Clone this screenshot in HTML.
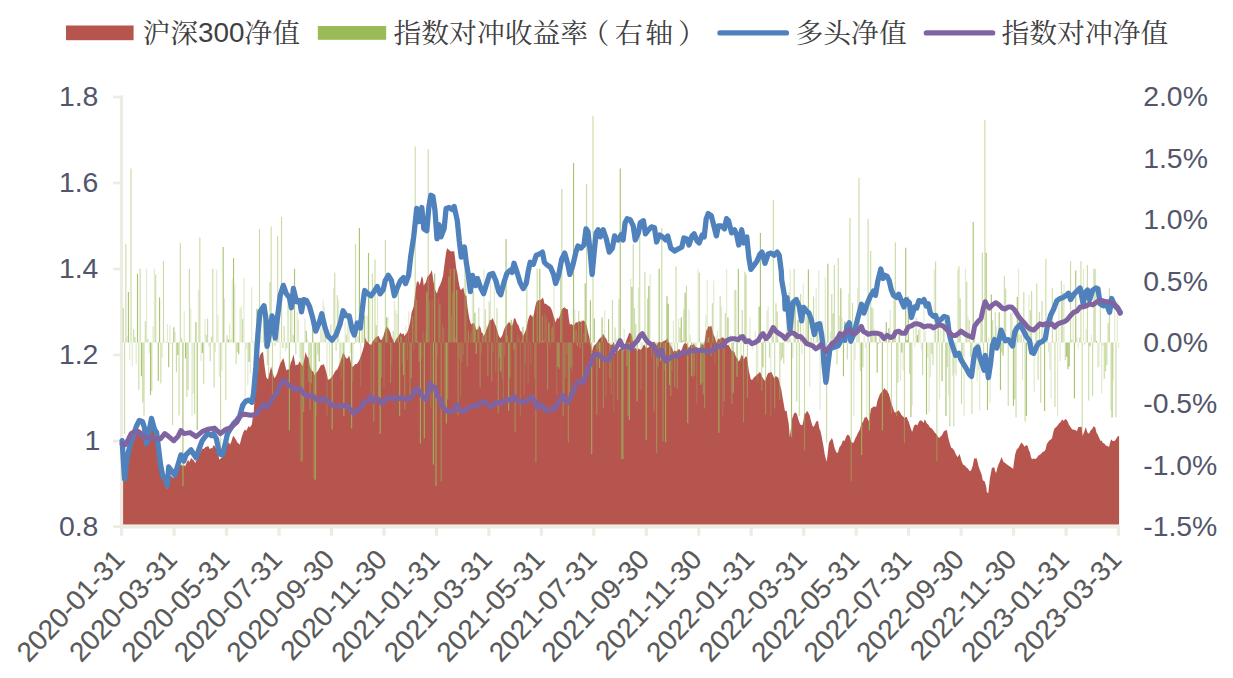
<!DOCTYPE html>
<html lang="zh"><head><meta charset="utf-8"><title>chart</title>
<style>html,body{margin:0;padding:0;background:#fff}svg{display:block}</style></head>
<body>
<svg width="1233" height="678" viewBox="0 0 1233 678">
<rect width="1233" height="678" fill="#fff"/>
<g stroke="#ECECE3" stroke-width="3.2" fill="none">
<path d="M121.5 95.5V528.2"/>
<path d="M119.9 526.8H1120"/>
</g>
<g stroke="#ECECE3" stroke-width="2.6" fill="none">
<path d="M113 97.0H121.5"/>
<path d="M113 183.0H121.5"/>
<path d="M113 269.0H121.5"/>
<path d="M113 355.0H121.5"/>
<path d="M113 441.0H121.5"/>
<path d="M113 526.6H121.5"/>
</g>
<g stroke="#ECECE3" stroke-width="3.2" fill="none">
<path d="M121.6 526.6V535.8"/>
<path d="M174.1 526.6V535.8"/>
<path d="M226.5 526.6V535.8"/>
<path d="M279.0 526.6V535.8"/>
<path d="M331.5 526.6V535.8"/>
<path d="M384.0 526.6V535.8"/>
<path d="M436.4 526.6V535.8"/>
<path d="M488.9 526.6V535.8"/>
<path d="M541.4 526.6V535.8"/>
<path d="M593.8 526.6V535.8"/>
<path d="M646.3 526.6V535.8"/>
<path d="M698.8 526.6V535.8"/>
<path d="M751.2 526.6V535.8"/>
<path d="M803.7 526.6V535.8"/>
<path d="M856.2 526.6V535.8"/>
<path d="M908.6 526.6V535.8"/>
<path d="M961.1 526.6V535.8"/>
<path d="M1013.6 526.6V535.8"/>
<path d="M1066.1 526.6V535.8"/>
<path d="M1118.5 526.6V535.8"/>
</g>
<path fill="#B5554E" d="M123.1 524.4L123.1,440.7 L124.5,477.2 L125.8,468.4 L127.2,456.5 L128.7,451.9 L130.2,444.6 L131.7,439.9 L133.2,436.5 L134.3,433.3 L135.3,430.5 L136.8,430.3 L138.3,429.0 L139.8,429.5 L141.4,430.8 L142.4,431.0 L143.4,433.4 L144.9,438.7 L146.4,444.2 L147.4,441.1 L148.5,440.0 L150.0,434.9 L151.5,429.5 L153.0,430.7 L154.5,432.6 L155.6,433.1 L156.6,436.6 L157.6,444.0 L158.6,451.2 L159.6,458.0 L160.6,466.9 L161.6,469.9 L162.6,477.0 L163.7,477.8 L164.7,482.6 L166.0,487.5 L167.3,488.4 L168.7,479.6 L169.7,477.5 L170.8,475.0 L171.8,476.7 L172.8,477.4 L173.8,477.8 L174.8,476.1 L175.8,473.0 L176.8,470.8 L178.4,467.0 L179.9,465.0 L181.4,464.7 L182.9,466.5 L183.9,464.5 L185.0,466.6 L186.5,463.0 L188.0,460.0 L189.5,462.0 L191.0,457.9 L192.6,459.6 L194.1,460.7 L195.1,463.3 L196.1,461.1 L197.6,459.6 L199.1,454.6 L200.7,451.7 L202.2,448.5 L203.7,449.0 L205.2,447.3 L206.7,446.7 L208.3,445.9 L209.8,449.3 L211.3,447.7 L212.3,448.4 L213.3,445.2 L214.9,446.2 L216.4,448.9 L217.9,453.4 L219.4,459.7 L220.9,458.2 L222.5,456.8 L224.0,452.6 L225.5,448.7 L227.0,445.6 L228.5,442.3 L230.1,444.5 L231.6,440.9 L233.1,435.7 L234.6,437.6 L236.1,440.0 L237.7,442.9 L238.7,443.5 L239.7,444.7 L240.7,441.1 L241.7,437.1 L243.2,432.6 L244.8,429.4 L246.3,430.7 L247.8,427.7 L248.8,425.9 L249.8,427.5 L250.8,426.3 L251.9,424.2 L252.9,416.1 L253.9,410.4 L254.9,389.6 L255.9,378.1 L256.9,368.0 L258.5,360.9 L260.0,354.9 L261.5,352.9 L263.0,351.7 L264.5,365.3 L266.1,376.7 L267.1,378.6 L268.1,379.2 L269.6,372.4 L271.1,366.5 L272.6,372.6 L274.2,378.2 L275.7,376.4 L277.2,373.2 L278.7,368.3 L280.2,363.4 L281.8,360.7 L283.3,358.1 L284.8,363.6 L286.3,370.4 L287.9,369.2 L289.4,369.4 L290.7,362.8 L292.1,359.8 L293.4,354.4 L294.4,359.2 L295.5,365.5 L296.8,364.8 L298.2,364.4 L299.5,361.2 L301.0,363.5 L302.6,366.3 L304.1,360.2 L305.6,351.9 L307.1,356.5 L308.6,358.3 L309.6,364.5 L310.7,368.6 L312.0,370.7 L313.4,371.7 L314.7,375.4 L316.2,372.8 L317.8,370.9 L319.3,368.3 L320.8,365.2 L322.3,365.0 L323.8,363.9 L325.4,368.9 L326.9,374.5 L327.9,379.6 L329.2,379.6 L330.6,378.3 L332.0,376.3 L333.3,375.1 L334.7,372.1 L336.0,370.3 L337.4,369.3 L338.7,366.1 L340.1,362.2 L341.6,357.5 L343.1,352.6 L344.6,354.7 L346.1,358.4 L347.7,358.2 L349.2,355.6 L350.7,361.8 L352.2,366.9 L353.7,366.1 L355.3,363.9 L356.8,363.9 L358.3,362.1 L359.8,359.1 L361.4,354.6 L362.7,350.6 L364.0,345.9 L365.0,337.4 L366.5,341.1 L368.0,342.3 L369.6,344.3 L371.1,345.0 L372.6,341.4 L374.1,339.7 L375.6,337.2 L377.2,336.6 L378.7,335.9 L380.2,339.7 L381.7,339.7 L383.2,336.9 L384.3,332.7 L385.3,329.5 L386.3,326.4 L387.3,327.2 L388.8,328.9 L390.3,332.5 L391.7,336.9 L393.0,339.4 L394.4,342.9 L395.9,339.4 L397.4,337.5 L399.0,335.2 L400.5,332.5 L402.0,334.5 L403.5,333.2 L404.5,336.2 L405.6,334.2 L407.1,332.7 L408.6,328.2 L410.1,322.2 L411.6,312.4 L412.6,309.7 L413.7,306.5 L414.7,297.2 L415.7,289.2 L416.7,282.8 L417.7,281.0 L418.7,282.3 L419.7,285.3 L420.8,280.5 L421.8,276.3 L422.8,278.6 L423.8,285.7 L424.8,283.6 L425.8,282.8 L427.3,277.0 L428.9,275.3 L430.4,273.3 L431.9,270.0 L433.4,281.2 L435.0,289.3 L436.0,291.7 L437.0,293.6 L438.5,288.1 L440.0,284.9 L441.5,281.3 L443.1,275.5 L444.1,267.2 L445.1,259.7 L446.1,252.5 L447.1,248.3 L448.6,249.6 L450.2,251.1 L451.5,251.6 L452.9,251.3 L454.2,251.2 L455.2,259.5 L456.2,268.2 L457.3,273.1 L458.3,279.9 L459.3,285.2 L460.3,289.5 L461.8,289.5 L463.3,287.2 L464.4,292.9 L465.4,295.4 L466.4,295.9 L467.4,306.4 L468.4,313.2 L469.4,318.8 L470.4,322.4 L471.4,324.4 L473.0,322.9 L474.5,323.7 L475.5,327.3 L476.5,330.1 L478.0,329.1 L479.6,325.6 L480.6,328.0 L481.6,332.8 L482.6,333.1 L483.6,336.2 L485.1,333.5 L486.7,328.9 L488.2,325.0 L489.7,319.8 L491.2,320.2 L492.7,318.1 L494.3,322.6 L495.8,325.8 L497.3,330.7 L498.8,336.0 L499.8,337.6 L500.8,337.9 L502.4,335.1 L503.9,329.9 L505.4,326.6 L506.9,325.1 L508.5,322.3 L510.0,322.4 L511.0,325.2 L512.0,326.1 L513.0,323.3 L514.0,317.9 L515.5,319.0 L517.1,323.6 L518.6,325.4 L520.1,330.5 L521.6,331.7 L523.2,336.1 L524.7,333.0 L526.2,328.8 L527.2,324.0 L528.2,319.4 L529.2,316.5 L530.2,314.5 L531.8,316.1 L533.3,317.6 L534.8,308.8 L536.3,302.0 L537.9,300.4 L539.4,299.7 L540.9,300.1 L542.4,297.7 L543.4,298.8 L544.4,303.7 L546.0,303.8 L547.5,305.2 L549.0,305.9 L550.5,307.3 L552.0,310.5 L553.6,316.3 L554.6,318.9 L555.6,322.4 L557.1,317.8 L558.6,318.7 L560.2,314.7 L561.7,309.5 L563.2,307.9 L564.7,307.2 L566.2,308.9 L567.8,309.3 L568.8,318.4 L569.8,324.5 L571.3,323.9 L572.8,325.2 L574.3,324.8 L575.9,322.2 L577.4,322.4 L578.9,320.9 L579.9,321.6 L580.9,321.9 L582.5,320.7 L584.0,320.4 L585.0,321.8 L586.0,324.2 L587.0,326.8 L588.0,332.3 L589.0,336.0 L590.1,341.1 L591.1,346.4 L592.1,351.0 L593.1,347.4 L594.1,345.3 L595.6,344.3 L597.2,342.2 L598.7,339.5 L600.2,338.0 L601.7,336.7 L603.2,333.7 L604.8,336.9 L606.3,338.8 L607.8,342.6 L609.3,343.6 L610.8,345.0 L612.4,344.4 L613.4,341.7 L614.4,343.5 L615.0,353.5 L616.5,350.0 L618.0,351.3 L619.6,349.1 L621.1,348.6 L622.6,349.9 L624.1,350.9 L625.1,344.7 L626.2,340.7 L627.7,337.1 L629.2,332.9 L630.7,333.3 L632.2,336.3 L633.2,343.8 L634.3,348.8 L635.8,347.8 L637.3,350.9 L638.8,348.3 L640.3,350.0 L641.9,348.4 L643.4,345.3 L644.4,344.5 L645.4,346.9 L646.9,348.0 L648.5,347.4 L650.0,345.5 L651.5,342.6 L653.0,341.9 L654.5,341.8 L655.6,343.4 L656.6,345.4 L658.1,342.5 L659.6,341.7 L661.1,342.7 L662.6,341.4 L664.2,341.0 L665.7,340.0 L666.7,339.3 L667.7,338.3 L669.2,343.7 L670.8,346.0 L672.1,348.1 L673.5,351.7 L674.8,350.6 L676.3,351.4 L677.9,349.8 L679.2,349.0 L680.6,350.9 L681.9,349.3 L682.9,346.0 L683.9,344.1 L685.5,342.8 L687.0,344.4 L688.0,347.3 L689.0,347.8 L690.5,345.1 L692.0,344.9 L693.1,344.6 L694.1,344.3 L695.6,346.8 L697.1,347.7 L698.1,347.8 L699.1,348.7 L700.7,345.5 L702.2,343.4 L703.2,345.0 L704.2,344.3 L705.2,337.6 L706.2,330.4 L707.3,329.5 L708.3,326.3 L709.8,326.8 L711.3,325.8 L712.3,329.6 L713.3,334.2 L714.9,337.5 L716.4,343.1 L717.4,340.5 L718.4,338.4 L719.9,339.2 L721.4,337.5 L723.0,337.6 L724.5,338.6 L725.5,340.7 L726.5,344.8 L727.5,344.9 L728.5,345.1 L730.1,347.7 L731.6,350.7 L733.1,350.9 L734.6,352.4 L735.6,355.9 L736.7,357.7 L737.7,359.1 L738.7,361.8 L740.2,359.0 L741.7,354.8 L742.7,356.0 L743.8,359.5 L745.3,356.8 L746.8,356.6 L747.8,363.3 L748.8,370.7 L749.8,374.9 L750.8,379.5 L752.4,379.8 L753.9,377.5 L755.4,376.2 L756.9,374.6 L758.5,373.6 L760.0,371.7 L761.0,374.0 L762.0,376.6 L763.5,378.9 L765.0,381.1 L766.6,376.4 L768.1,373.1 L769.6,372.7 L771.1,371.7 L772.6,374.6 L774.2,378.6 L775.7,375.9 L777.2,377.0 L778.2,377.4 L779.2,380.9 L780.2,385.5 L781.3,389.6 L782.3,395.9 L783.3,401.6 L784.9,410.8 L785.1,410.9 L786.6,410.7 L787.7,418.1 L788.7,423.7 L789.8,437.3 L790.8,429.2 L791.9,419.4 L792.9,416.4 L794.0,413.6 L795.0,412.6 L796.1,412.9 L797.1,414.4 L798.2,418.9 L799.2,421.9 L800.3,424.6 L801.4,424.9 L802.4,425.2 L803.5,420.3 L804.5,412.9 L805.6,413.7 L806.6,411.5 L807.7,411.3 L808.7,413.5 L809.8,415.4 L810.8,420.2 L811.9,423.9 L813.0,427.1 L814.5,425.6 L816.1,421.8 L817.2,420.7 L818.2,421.8 L819.3,428.3 L820.3,430.6 L821.4,435.2 L822.4,440.7 L823.5,446.3 L824.6,453.7 L825.6,458.0 L826.7,461.7 L827.7,453.5 L828.8,443.4 L829.8,441.0 L830.9,439.7 L831.9,438.1 L833.0,440.7 L834.0,445.8 L835.1,449.4 L836.2,452.1 L837.2,453.2 L838.3,451.6 L839.3,447.6 L840.4,445.9 L841.4,444.5 L843.0,440.3 L844.6,440.9 L846.2,436.5 L847.7,434.6 L848.8,435.2 L849.9,436.7 L850.9,441.0 L852.0,442.8 L853.5,442.7 L855.1,438.7 L856.7,435.8 L858.3,432.3 L859.9,429.4 L861.5,423.3 L863.0,421.9 L864.6,417.6 L865.7,417.5 L866.7,416.4 L867.8,419.3 L868.8,421.2 L869.9,415.4 L870.9,408.6 L872.0,408.1 L873.1,406.8 L874.6,406.5 L876.2,406.9 L877.3,401.3 L878.3,398.2 L879.9,394.3 L881.5,392.1 L883.1,390.1 L884.7,388.0 L885.7,390.0 L886.8,390.3 L887.8,391.9 L888.9,394.3 L889.9,397.5 L891.0,402.5 L892.0,404.7 L893.1,408.3 L894.1,411.3 L895.2,412.7 L896.8,411.8 L898.4,410.3 L899.9,412.0 L901.5,414.9 L903.1,416.5 L904.7,418.2 L905.7,416.9 L906.8,417.1 L907.8,420.1 L908.9,422.2 L910.5,427.5 L912.1,432.1 L913.1,428.7 L914.2,425.4 L915.8,424.3 L917.3,425.5 L918.4,423.1 L919.4,421.0 L921.0,420.2 L922.6,421.4 L923.7,422.9 L924.7,419.2 L925.8,421.2 L926.8,423.4 L928.4,424.7 L930.0,427.5 L931.6,428.3 L933.2,430.3 L934.7,432.4 L936.3,433.9 L937.4,435.8 L938.4,437.6 L939.5,437.8 L940.5,436.5 L942.1,435.1 L943.7,431.5 L945.3,430.6 L946.9,429.9 L947.9,436.0 L949.0,440.6 L950.0,444.0 L951.1,447.6 L952.7,448.4 L954.2,450.6 L955.8,454.3 L957.4,456.9 L958.5,455.9 L959.5,453.8 L960.6,457.6 L961.6,461.3 L963.2,464.8 L964.8,465.6 L966.4,467.6 L967.9,468.4 L969.5,470.9 L971.1,470.6 L972.7,465.7 L974.3,458.1 L975.3,458.8 L976.4,458.0 L977.4,461.2 L978.5,466.0 L979.5,469.0 L980.6,471.7 L981.7,474.8 L982.7,479.9 L983.8,481.0 L984.8,481.5 L986.5,488.3 L986.7,491.8 L988.2,493.6 L989.9,478.4 L990.9,473.2 L992.0,467.3 L993.0,468.2 L994.1,466.5 L995.1,471.1 L996.2,473.1 L997.2,468.4 L998.3,465.0 L999.9,461.4 L1001.5,457.0 L1002.5,459.5 L1003.6,462.0 L1005.2,463.0 L1006.7,464.3 L1008.3,465.6 L1009.9,466.5 L1011.5,467.4 L1013.1,469.1 L1014.1,461.6 L1015.2,454.2 L1016.8,449.3 L1018.3,448.1 L1019.9,445.1 L1021.5,442.5 L1023.1,444.5 L1024.7,446.7 L1026.2,445.0 L1027.8,446.2 L1028.9,450.4 L1029.9,451.9 L1031.0,457.3 L1032.0,459.2 L1033.6,458.5 L1035.2,458.9 L1036.8,457.9 L1038.4,455.6 L1040.0,454.8 L1041.5,453.2 L1043.1,451.7 L1044.7,451.1 L1045.7,448.9 L1046.8,444.1 L1048.4,441.7 L1050.0,439.7 L1051.0,439.4 L1052.1,438.0 L1053.1,433.1 L1054.2,429.0 L1055.8,427.3 L1057.3,425.9 L1058.9,423.5 L1060.5,422.2 L1062.1,419.4 L1063.7,420.9 L1065.3,419.0 L1066.8,420.1 L1067.9,422.0 L1068.9,424.7 L1070.5,427.1 L1072.1,429.2 L1073.7,429.8 L1075.3,429.9 L1076.9,431.3 L1078.4,427.1 L1080.0,427.1 L1081.6,426.7 L1082.7,435.8 L1084.2,431.8 L1085.8,427.0 L1087.4,432.6 L1089.0,433.8 L1090.6,430.6 L1092.1,429.1 L1093.7,426.3 L1095.3,427.6 L1096.4,432.4 L1097.4,434.1 L1099.0,437.6 L1100.6,440.9 L1101.6,440.4 L1102.7,442.8 L1104.3,443.6 L1105.8,445.4 L1107.4,446.1 L1109.0,446.9 L1110.1,442.8 L1111.1,439.3 L1112.7,441.1 L1114.3,441.1 L1115.3,440.2 L1116.4,438.5 L1117.8,436.3 L1119.1,436.0 L1119.1 524.4Z"/>
<path stroke="#9BBB59" stroke-opacity="0.30" stroke-width="1.15" fill="none" d="M127.14 342.4V336.2M129.74 342.4V359.6M132.33 342.4V365.9M136.23 342.4V364.6M146.61 342.4V268.7M149.20 342.4V352.9M153.09 342.4V326.3M154.39 342.4V268.7M156.99 342.4V342.1M162.18 342.4V357.7M164.77 342.4V341.6M167.37 342.4V324.0M169.96 342.4V325.3M171.26 342.4V344.1M175.16 342.4V331.9M184.24 342.4V311.4M190.73 342.4V308.4M192.02 342.4V416.1M193.32 342.4V393.6M198.51 342.4V289.9M201.11 342.4V361.2M205.00 342.4V318.7M208.89 342.4V346.5M215.38 342.4V352.0M216.68 342.4V269.7M217.98 342.4V315.3M219.28 342.4V376.8M221.87 342.4V370.4M224.47 342.4V298.0M229.66 342.4V323.6M230.95 342.4V339.0M232.25 342.4V278.8M234.85 342.4V284.5M240.04 342.4V308.3M241.34 342.4V306.4M243.93 342.4V278.0M245.23 342.4V408.0M246.53 342.4V348.7M247.82 342.4V385.6M250.42 342.4V373.8M251.72 342.4V287.2M253.01 342.4V340.6M255.61 342.4V340.7M258.21 342.4V371.4M260.80 342.4V320.2M262.10 342.4V342.0M273.78 342.4V325.0M278.97 342.4V292.8M280.27 342.4V364.3M285.46 342.4V351.2M291.94 342.4V306.9M297.13 342.4V311.8M298.43 342.4V319.5M299.73 342.4V358.5M304.92 342.4V318.5M307.52 342.4V338.5M316.60 342.4V416.1M320.49 342.4V328.5M321.79 342.4V325.7M323.09 342.4V300.5M324.39 342.4V306.5M326.98 342.4V416.1M329.58 342.4V375.9M333.47 342.4V287.8M338.66 342.4V300.5M341.26 342.4V379.0M342.55 342.4V359.7M345.15 342.4V321.9M347.74 342.4V315.1M349.04 342.4V321.2M350.34 342.4V353.2M352.93 342.4V381.6M356.83 342.4V324.7M358.12 342.4V336.5M360.72 342.4V386.4M363.32 342.4V320.9M365.91 342.4V342.9M367.21 342.4V315.6M369.80 342.4V295.9M371.10 342.4V395.7M377.59 342.4V289.5M382.78 342.4V335.9M384.08 342.4V387.3M387.97 342.4V316.5M389.27 342.4V344.4M391.86 342.4V365.4M394.46 342.4V301.1M395.76 342.4V309.9M397.05 342.4V313.4M402.24 342.4V363.9M406.14 342.4V325.8M407.44 342.4V360.3M408.73 342.4V311.3M413.92 342.4V350.3M421.71 342.4V358.5M423.01 342.4V332.1M425.60 342.4V332.8M429.50 342.4V300.9M430.79 342.4V408.0M432.09 342.4V299.2M437.28 342.4V358.4M438.58 342.4V299.1M442.47 342.4V324.3M443.77 342.4V327.9M451.56 342.4V315.9M455.45 342.4V338.2M459.34 342.4V358.8M460.64 342.4V397.2M461.94 342.4V362.2M463.23 342.4V354.9M464.53 342.4V268.7M471.02 342.4V333.2M472.32 342.4V278.7M477.51 342.4V326.4M481.40 342.4V353.3M484.00 342.4V268.7M486.59 342.4V325.0M490.49 342.4V281.8M493.08 342.4V352.1M494.38 342.4V270.7M495.68 342.4V372.9M502.16 342.4V378.9M503.46 342.4V400.2M504.76 342.4V355.2M512.55 342.4V322.6M516.44 342.4V398.1M517.74 342.4V334.3M519.03 342.4V338.2M520.33 342.4V416.1M524.22 342.4V395.1M525.52 342.4V364.7M528.12 342.4V383.2M529.42 342.4V341.0M530.71 342.4V363.7M534.61 342.4V377.7M538.50 342.4V344.5M544.99 342.4V313.6M546.28 342.4V317.5M550.18 342.4V347.2M551.48 342.4V328.8M554.07 342.4V279.8M556.67 342.4V394.7M564.45 342.4V398.3M565.75 342.4V378.2M567.05 342.4V354.6M572.24 342.4V371.2M574.83 342.4V309.2M583.92 342.4V333.1M587.81 342.4V343.7M595.60 342.4V342.4M604.68 342.4V310.2M605.98 342.4V397.5M611.17 342.4V394.1M613.76 342.4V411.2M616.36 342.4V338.5M624.14 342.4V328.8M630.63 342.4V278.6M638.42 342.4V287.6M641.01 342.4V389.8M642.31 342.4V346.7M650.10 342.4V273.9M651.39 342.4V358.0M655.29 342.4V353.4M664.37 342.4V370.2M672.16 342.4V371.0M673.46 342.4V320.7M678.65 342.4V318.2M689.03 342.4V309.4M690.32 342.4V334.7M692.92 342.4V378.0M695.52 342.4V351.0M696.81 342.4V404.1M698.11 342.4V268.7M705.90 342.4V315.3M707.19 342.4V280.1M709.79 342.4V325.9M713.68 342.4V280.6M714.98 342.4V363.2M716.28 342.4V335.2M717.58 342.4V330.3M721.47 342.4V306.6M722.77 342.4V416.1M726.66 342.4V268.7M729.25 342.4V346.6M730.55 342.4V334.5M734.44 342.4V290.3M740.93 342.4V362.0M748.72 342.4V338.3M750.02 342.4V317.8M752.61 342.4V349.4M755.21 342.4V330.7M756.51 342.4V376.7M757.80 342.4V382.3M766.89 342.4V310.5M768.18 342.4V306.0M770.78 342.4V416.1M778.57 342.4V339.7M785.05 342.4V341.0M786.35 342.4V314.6M787.65 342.4V338.8M790.24 342.4V269.7M792.84 342.4V357.9M801.92 342.4V353.9M803.22 342.4V283.5M805.82 342.4V316.2M809.71 342.4V387.3M816.20 342.4V288.2M818.79 342.4V270.7M820.09 342.4V409.8M822.69 342.4V321.1M825.28 342.4V276.8M829.17 342.4V380.2M830.47 342.4V332.1M835.66 342.4V343.3M839.56 342.4V315.7M842.15 342.4V318.2M848.64 342.4V293.6M853.83 342.4V416.1M855.13 342.4V360.3M856.42 342.4V334.6M857.72 342.4V287.5M864.21 342.4V335.7M865.51 342.4V347.9M866.81 342.4V416.1M873.29 342.4V309.0M874.59 342.4V328.7M883.68 342.4V339.9M884.97 342.4V331.8M887.57 342.4V392.8M890.16 342.4V310.1M900.54 342.4V380.6M903.14 342.4V370.2M912.22 342.4V405.4M913.52 342.4V326.7M914.82 342.4V347.3M920.01 342.4V325.6M921.31 342.4V349.5M923.90 342.4V300.2M925.20 342.4V331.3M927.80 342.4V357.9M929.09 342.4V412.5M930.39 342.4V377.1M934.28 342.4V268.7M939.47 342.4V399.3M940.77 342.4V318.3M944.67 342.4V315.0M948.56 342.4V395.6M951.15 342.4V353.1M952.45 342.4V375.7M955.05 342.4V373.5M956.34 342.4V376.2M957.64 342.4V269.9M964.13 342.4V416.1M965.43 342.4V268.7M968.02 342.4V317.0M975.81 342.4V359.7M977.11 342.4V381.3M978.40 342.4V370.6M979.70 342.4V411.1M988.79 342.4V337.1M990.08 342.4V403.1M993.98 342.4V336.1M996.57 342.4V326.0M997.87 342.4V338.1M1006.95 342.4V339.4M1009.55 342.4V339.2M1012.14 342.4V312.1M1018.63 342.4V268.7M1019.93 342.4V334.5M1022.52 342.4V380.1M1029.01 342.4V294.8M1034.20 342.4V391.7M1035.50 342.4V324.3M1043.29 342.4V336.5M1048.48 342.4V352.4M1049.78 342.4V369.8M1051.07 342.4V398.3M1057.56 342.4V416.1M1058.86 342.4V297.8M1060.16 342.4V361.0M1064.05 342.4V284.2M1073.13 342.4V314.2M1077.03 342.4V336.7M1078.32 342.4V348.4M1083.51 342.4V268.7M1086.11 342.4V329.2M1091.30 342.4V334.7M1097.79 342.4V367.7M1099.09 342.4V367.1M1101.68 342.4V393.3M1102.98 342.4V345.6M1110.77 342.4V410.3M1113.36 342.4V380.5M1114.66 342.4V307.7M1117.25 342.4V301.0M1118.55 342.4V348.0"/>
<path stroke="#9BBB59" stroke-opacity="0.52" stroke-width="1.15" fill="none" d="M123.25 342.4V308.1M124.55 342.4V434.0M125.84 342.4V244.0M131.03 342.4V168.6M133.63 342.4V329.3M134.93 342.4V336.9M138.82 342.4V390.0M140.12 342.4V268.7M142.71 342.4V402.5M144.01 342.4V416.1M145.31 342.4V321.3M147.90 342.4V339.1M151.80 342.4V391.0M155.69 342.4V274.6M160.88 342.4V383.4M163.48 342.4V261.0M172.56 342.4V425.0M176.45 342.4V372.2M179.05 342.4V415.4M180.35 342.4V243.0M181.64 342.4V338.2M186.83 342.4V396.8M188.13 342.4V389.8M189.43 342.4V268.7M194.62 342.4V413.9M199.81 342.4V237.5M203.70 342.4V384.0M206.30 342.4V334.8M207.60 342.4V318.6M210.19 342.4V361.2M211.49 342.4V336.8M212.79 342.4V268.7M214.08 342.4V387.6M220.57 342.4V456.0M225.76 342.4V400.0M227.06 342.4V335.2M236.14 342.4V364.3M237.44 342.4V351.7M242.63 342.4V319.2M254.31 342.4V373.5M259.50 342.4V229.0M263.40 342.4V314.4M264.69 342.4V346.4M267.29 342.4V365.1M268.59 342.4V378.1M269.88 342.4V282.2M271.18 342.4V226.5M272.48 342.4V394.0M275.07 342.4V345.8M276.37 342.4V326.2M277.67 342.4V236.0M281.56 342.4V217.0M282.86 342.4V348.3M284.16 342.4V325.8M286.75 342.4V348.2M288.05 342.4V293.2M290.65 342.4V294.8M293.24 342.4V335.2M295.84 342.4V354.7M301.03 342.4V462.0M302.33 342.4V461.0M303.62 342.4V411.9M308.81 342.4V381.9M310.11 342.4V409.9M311.41 342.4V383.2M314.00 342.4V479.0M317.90 342.4V354.3M325.68 342.4V327.4M330.87 342.4V324.6M334.77 342.4V272.4M336.06 342.4V350.9M337.36 342.4V295.3M339.96 342.4V365.4M346.45 342.4V334.4M354.23 342.4V344.2M355.53 342.4V244.0M362.02 342.4V291.9M372.40 342.4V273.5M373.70 342.4V421.4M374.99 342.4V259.6M376.29 342.4V325.1M381.48 342.4V377.6M385.38 342.4V240.0M390.57 342.4V382.4M393.16 342.4V330.7M398.35 342.4V284.3M404.84 342.4V409.8M410.03 342.4V401.3M411.33 342.4V378.1M412.63 342.4V316.0M415.22 342.4V146.5M416.52 342.4V300.3M419.11 342.4V361.7M428.20 342.4V149.3M439.88 342.4V304.8M441.17 342.4V481.5M445.07 342.4V404.9M447.66 342.4V399.6M450.26 342.4V268.7M452.85 342.4V291.3M458.04 342.4V415.0M465.83 342.4V268.7M467.13 342.4V366.9M468.43 342.4V330.8M473.62 342.4V291.4M478.81 342.4V307.5M480.10 342.4V387.3M482.70 342.4V334.8M485.29 342.4V309.3M487.89 342.4V376.3M489.19 342.4V301.5M491.78 342.4V381.2M496.97 342.4V308.2M498.27 342.4V413.0M499.57 342.4V357.9M507.36 342.4V335.7M509.95 342.4V377.8M513.84 342.4V349.6M515.14 342.4V431.9M521.63 342.4V340.4M526.82 342.4V270.8M532.01 342.4V342.6M535.90 342.4V462.5M537.20 342.4V268.7M541.09 342.4V341.0M542.39 342.4V315.5M543.69 342.4V340.2M547.58 342.4V390.1M552.77 342.4V326.4M555.37 342.4V342.2M559.26 342.4V369.1M560.56 342.4V268.7M561.86 342.4V189.0M563.15 342.4V416.0M568.34 342.4V442.4M569.64 342.4V391.7M570.94 342.4V367.3M576.13 342.4V330.1M578.73 342.4V311.0M580.02 342.4V347.9M581.32 342.4V319.8M582.62 342.4V382.6M586.51 342.4V184.0M589.11 342.4V339.4M593.00 342.4V116.0M596.89 342.4V415.0M598.19 342.4V349.3M600.79 342.4V357.9M603.38 342.4V407.7M607.27 342.4V341.8M609.87 342.4V378.5M612.47 342.4V299.8M615.06 342.4V327.5M617.66 342.4V400.0M618.95 342.4V299.3M621.55 342.4V459.3M625.44 342.4V346.4M626.74 342.4V366.0M628.04 342.4V416.1M633.23 342.4V244.0M634.53 342.4V308.3M635.82 342.4V324.1M639.72 342.4V233.0M644.91 342.4V272.3M647.50 342.4V298.4M652.69 342.4V345.8M653.99 342.4V411.6M656.59 342.4V452.8M657.88 342.4V366.4M661.78 342.4V228.0M663.07 342.4V441.2M670.86 342.4V395.8M674.75 342.4V386.9M676.05 342.4V266.5M677.35 342.4V388.4M679.94 342.4V327.2M682.54 342.4V339.7M683.84 342.4V309.2M686.43 342.4V285.4M694.22 342.4V375.4M699.41 342.4V272.8M702.00 342.4V382.9M703.30 342.4V394.4M704.60 342.4V408.5M711.09 342.4V356.3M712.38 342.4V303.3M720.17 342.4V296.2M724.06 342.4V401.0M725.36 342.4V313.0M731.85 342.4V403.9M735.74 342.4V289.7M742.23 342.4V310.0M743.53 342.4V422.2M744.83 342.4V271.8M746.12 342.4V274.4M747.42 342.4V398.0M751.31 342.4V344.9M753.91 342.4V339.9M761.70 342.4V390.5M765.59 342.4V414.8M769.48 342.4V357.8M772.08 342.4V336.5M773.37 342.4V200.0M774.67 342.4V408.5M775.97 342.4V303.3M777.27 342.4V311.4M779.86 342.4V400.0M781.16 342.4V360.4M782.46 342.4V357.8M783.76 342.4V363.8M788.95 342.4V292.4M794.14 342.4V268.7M795.43 342.4V299.5M796.73 342.4V401.4M799.33 342.4V416.1M800.63 342.4V294.1M804.52 342.4V450.6M807.11 342.4V306.1M811.01 342.4V337.7M812.30 342.4V345.4M813.60 342.4V296.4M814.90 342.4V341.9M817.49 342.4V324.0M826.58 342.4V443.0M831.77 342.4V293.9M833.07 342.4V313.2M834.36 342.4V265.0M836.96 342.4V364.6M838.26 342.4V258.0M847.34 342.4V359.5M849.94 342.4V218.0M851.23 342.4V481.2M852.53 342.4V303.0M859.02 342.4V178.0M860.32 342.4V371.0M862.91 342.4V367.5M868.10 342.4V219.0M870.70 342.4V251.0M872.00 342.4V307.3M878.48 342.4V343.9M879.78 342.4V333.2M881.08 342.4V341.7M891.46 342.4V413.7M894.06 342.4V292.1M895.35 342.4V242.5M896.65 342.4V416.1M897.95 342.4V382.8M904.44 342.4V443.3M909.63 342.4V374.0M916.12 342.4V317.6M918.71 342.4V329.6M922.61 342.4V375.3M931.69 342.4V353.9M932.99 342.4V365.2M935.58 342.4V261.5M936.88 342.4V461.2M943.37 342.4V326.1M947.26 342.4V367.3M949.86 342.4V426.4M953.75 342.4V426.4M958.94 342.4V266.5M960.24 342.4V298.3M961.53 342.4V404.0M962.83 342.4V361.2M966.73 342.4V281.7M969.32 342.4V320.5M970.62 342.4V357.1M971.92 342.4V413.7M974.51 342.4V333.5M981.00 342.4V318.5M982.30 342.4V252.7M983.59 342.4V352.9M984.89 342.4V120.0M992.68 342.4V320.0M995.27 342.4V312.2M1001.76 342.4V352.8M1004.36 342.4V275.9M1005.66 342.4V288.4M1008.25 342.4V405.8M1010.85 342.4V313.6M1014.74 342.4V399.6M1016.04 342.4V417.4M1021.23 342.4V334.8M1023.82 342.4V292.1M1025.12 342.4V421.6M1027.72 342.4V324.5M1030.31 342.4V310.2M1031.61 342.4V291.0M1032.91 342.4V344.2M1036.80 342.4V283.4M1038.10 342.4V379.8M1039.39 342.4V311.9M1040.69 342.4V402.7M1041.99 342.4V301.0M1045.88 342.4V258.8M1047.18 342.4V333.5M1052.37 342.4V288.2M1054.97 342.4V406.9M1056.26 342.4V328.5M1061.45 342.4V280.9M1062.75 342.4V292.3M1065.35 342.4V359.9M1070.54 342.4V261.0M1071.84 342.4V339.6M1079.62 342.4V337.7M1080.92 342.4V261.0M1082.22 342.4V430.0M1084.81 342.4V344.4M1087.41 342.4V265.0M1088.71 342.4V400.4M1092.60 342.4V396.0M1093.90 342.4V268.7M1095.19 342.4V268.7M1100.38 342.4V293.4M1104.28 342.4V378.9M1105.57 342.4V371.3M1106.87 342.4V365.1M1108.17 342.4V323.0M1109.47 342.4V287.7M1115.96 342.4V417.4"/>
<path stroke="#9BBB59" stroke-opacity="0.85" stroke-width="1.15" fill="none" d="M128.44 342.4V292.1M137.52 342.4V273.8M141.42 342.4V376.3M150.50 342.4V395.0M158.29 342.4V381.0M159.58 342.4V297.4M166.07 342.4V342.1M168.67 342.4V367.2M173.86 342.4V327.3M177.75 342.4V354.9M182.94 342.4V486.0M185.54 342.4V358.4M195.92 342.4V321.9M197.22 342.4V430.0M202.41 342.4V352.9M223.17 342.4V247.0M228.36 342.4V339.6M233.55 342.4V258.0M238.74 342.4V354.2M249.12 342.4V362.0M256.91 342.4V308.7M265.99 342.4V318.5M289.35 342.4V430.5M294.54 342.4V268.7M306.22 342.4V330.8M312.71 342.4V325.6M315.30 342.4V480.2M319.19 342.4V361.6M328.28 342.4V342.1M332.17 342.4V429.5M343.85 342.4V416.1M351.64 342.4V428.5M359.42 342.4V228.0M364.61 342.4V315.5M368.51 342.4V253.0M378.89 342.4V401.7M380.18 342.4V434.0M386.67 342.4V317.4M399.65 342.4V416.1M400.95 342.4V336.4M403.54 342.4V375.0M417.82 342.4V341.5M420.41 342.4V443.5M424.31 342.4V438.2M426.90 342.4V292.2M433.39 342.4V464.6M434.69 342.4V273.6M435.98 342.4V485.7M446.37 342.4V423.5M448.96 342.4V276.5M454.15 342.4V268.7M456.75 342.4V290.0M469.72 342.4V342.3M474.91 342.4V312.8M476.21 342.4V354.1M500.87 342.4V371.2M506.06 342.4V239.0M508.65 342.4V410.8M511.25 342.4V319.8M522.93 342.4V327.0M533.31 342.4V314.8M539.80 342.4V268.7M548.88 342.4V322.5M557.96 342.4V367.0M573.54 342.4V163.0M577.43 342.4V345.4M585.21 342.4V283.2M590.41 342.4V300.2M591.70 342.4V454.0M594.30 342.4V318.6M599.49 342.4V368.3M602.08 342.4V317.5M608.57 342.4V319.3M620.25 342.4V168.6M622.85 342.4V459.1M629.33 342.4V420.0M631.93 342.4V287.0M637.12 342.4V401.6M643.61 342.4V342.0M646.20 342.4V440.1M648.80 342.4V286.0M659.18 342.4V268.7M660.48 342.4V361.0M665.67 342.4V442.2M666.97 342.4V296.2M668.26 342.4V303.7M669.56 342.4V385.1M681.24 342.4V317.4M685.13 342.4V292.8M687.73 342.4V423.2M691.62 342.4V376.1M700.71 342.4V384.7M708.49 342.4V337.5M718.87 342.4V432.7M727.96 342.4V317.5M733.15 342.4V392.7M737.04 342.4V376.7M738.34 342.4V268.7M739.64 342.4V334.0M759.10 342.4V306.4M760.40 342.4V233.0M762.99 342.4V367.2M764.29 342.4V334.9M791.54 342.4V437.0M798.03 342.4V319.9M808.41 342.4V269.5M821.39 342.4V333.0M823.98 342.4V368.4M827.88 342.4V263.7M840.85 342.4V288.2M843.45 342.4V376.3M844.75 342.4V321.4M846.04 342.4V322.6M861.62 342.4V454.9M869.40 342.4V430.6M875.89 342.4V336.0M877.19 342.4V372.7M882.38 342.4V430.6M886.27 342.4V322.1M888.87 342.4V328.2M892.76 342.4V335.0M899.25 342.4V329.5M901.84 342.4V352.6M905.74 342.4V247.7M907.03 342.4V340.0M908.33 342.4V296.6M910.93 342.4V417.0M917.41 342.4V335.2M926.50 342.4V414.4M938.18 342.4V320.2M942.07 342.4V381.3M945.96 342.4V416.1M973.21 342.4V222.0M986.19 342.4V252.7M987.49 342.4V410.0M991.38 342.4V294.4M999.17 342.4V312.3M1000.46 342.4V390.1M1003.06 342.4V355.8M1013.44 342.4V405.8M1017.33 342.4V297.1M1026.42 342.4V416.1M1044.58 342.4V411.0M1053.67 342.4V342.0M1066.64 342.4V356.7M1067.94 342.4V369.2M1069.24 342.4V366.5M1074.43 342.4V398.4M1075.73 342.4V270.6M1090.00 342.4V346.3M1096.49 342.4V340.9M1112.06 342.4V417.4"/>
<polyline fill="none" stroke="#4F81BD" stroke-width="5.3" stroke-linejoin="round" stroke-linecap="round" points="122.1,440.7 124.5,479.2 127.2,456.9 130.2,444.7 133.2,435.6 136.3,426.5 139.3,420.4 142.4,421.4 144.4,427.5 146.4,443.7 148.5,434.6 151.5,418.4 154.5,429.5 156.6,432.6 158.6,448.8 160.6,465.0 162.6,475.2 165.3,479.2 167.3,485.3 168.7,467.0 171.8,471.1 174.8,475.2 177.9,465.0 180.9,454.9 183.9,461.0 186.0,454.9 191.0,449.8 194.1,454.9 196.1,457.9 199.1,448.8 202.2,440.7 205.2,436.6 208.3,433.6 211.3,435.6 213.3,433.6 216.4,438.7 219.4,453.9 222.5,454.9 225.5,442.7 227.5,433.6 230.6,428.5 233.6,423.5 236.7,420.4 239.7,416.4 242.7,405.2 245.8,401.2 248.8,400.1 251.9,402.2 253.5,394.1 254.5,382.8 255.9,366.5 257.9,334.1 260.0,311.8 264.0,305.7 266.1,319.9 267.1,346.3 270.1,330.0 272.1,315.9 275.2,338.2 277.2,319.9 280.2,295.6 283.3,285.4 286.3,293.6 289.4,297.6 291.4,307.7 293.4,288.5 296.5,301.7 299.5,300.6 301.5,311.8 303.6,299.6 306.6,300.6 309.6,306.7 312.7,317.9 315.7,331.1 318.8,324.0 321.8,313.8 324.9,327.0 327.9,336.1 332.0,340.2 336.0,335.1 340.1,324.0 343.1,310.8 346.1,315.9 349.2,315.9 352.2,330.0 354.3,335.1 357.3,323.0 360.3,328.0 363.4,299.6 364.8,290.5 365.6,291.7 368.0,293.7 371.1,295.7 374.1,291.7 377.2,286.6 380.2,293.7 383.2,289.6 385.3,280.5 388.3,275.4 391.4,280.5 394.4,295.7 397.4,287.6 400.5,280.5 403.5,277.5 405.6,283.5 408.6,275.4 410.6,257.2 413.7,236.9 416.7,208.5 418.7,221.7 421.8,207.5 423.8,228.8 426.8,230.8 428.9,206.5 430.9,195.3 432.9,196.4 435.0,210.6 437.0,238.9 439.0,224.7 441.0,236.9 444.1,228.8 446.1,208.5 449.1,207.5 452.2,209.5 454.2,206.5 457.3,220.7 459.3,241.0 461.3,257.2 464.4,247.0 466.4,263.3 468.4,275.4 470.4,291.7 472.5,275.4 475.5,285.6 477.5,278.5 480.6,287.6 483.6,293.7 486.7,283.5 489.7,274.4 492.7,273.4 495.8,280.5 498.8,291.7 500.8,294.7 503.9,282.5 506.9,273.4 510.0,270.4 512.0,272.4 514.0,263.3 517.1,272.4 520.1,282.5 523.2,288.6 526.2,283.5 528.2,271.4 530.2,262.3 533.3,264.3 536.3,255.2 539.4,254.1 542.4,252.1 544.4,262.3 547.5,265.3 550.5,267.3 553.6,274.4 555.6,283.5 558.6,275.4 561.7,259.2 564.7,253.1 567.8,264.3 569.8,274.4 572.8,265.3 575.9,252.1 577.9,246.0 580.9,248.1 584.0,245.0 586.0,228.8 588.0,231.8 590.1,251.1 592.1,274.4 594.1,253.1 596.1,232.9 598.2,229.8 600.2,236.9 603.2,229.8 606.3,238.9 609.3,252.1 612.4,248.1 614.6,235.9 615.6,238.9 618.0,240.0 621.1,234.9 623.1,240.0 625.1,222.7 627.2,218.7 630.2,219.7 633.2,225.8 635.3,240.0 638.3,232.9 640.3,222.7 643.4,220.7 645.4,233.9 648.5,229.8 651.5,226.8 654.5,227.8 656.6,242.0 659.6,234.9 662.6,236.9 665.7,240.0 667.7,235.9 670.8,248.1 674.8,251.1 677.9,249.1 681.9,247.0 683.9,237.9 687.0,238.9 689.0,245.0 692.0,235.9 694.1,233.9 697.1,241.0 699.1,243.0 702.2,234.9 704.2,236.9 706.2,218.7 708.3,213.6 711.3,215.6 713.3,223.7 716.4,235.9 718.4,225.8 721.4,225.8 724.5,228.8 726.5,218.7 728.5,220.7 731.6,232.9 734.6,229.8 736.7,234.9 738.7,245.0 741.7,229.8 743.8,243.0 746.8,236.9 748.8,257.2 750.8,269.4 753.9,265.3 756.9,261.2 760.0,254.1 762.0,252.1 765.0,263.3 768.1,254.1 771.1,253.1 774.2,255.2 777.2,252.1 779.2,255.2 781.3,271.4 781.7,280.0 784.6,296.5 785.1,309.2 787.0,297.5 790.0,330.6 792.9,302.4 796.3,299.5 799.2,306.3 801.6,320.9 803.6,307.3 806.5,311.1 808.9,313.1 811.4,319.9 814.3,334.5 816.7,324.8 819.6,323.8 821.6,334.5 823.0,345.8 823.8,363.0 825.9,382.3 827.9,365.0 829.9,348.8 838.1,345.8 842.0,338.4 844.9,340.3 846.9,326.7 849.3,322.8 850.8,341.3 853.7,334.5 857.6,318.9 861.5,304.3 863.9,313.1 866.4,306.3 867.1,303.8 870.3,296.4 873.4,291.1 875.5,295.3 877.7,281.6 879.8,273.2 880.8,269.0 882.9,278.5 885.0,275.3 887.1,276.4 889.2,280.6 891.4,290.1 893.5,295.3 896.6,297.4 898.7,294.3 900.8,299.6 904.0,306.9 906.1,299.6 909.3,302.7 911.4,317.5 914.6,306.9 916.7,308.0 918.8,300.6 921.9,301.7 924.0,299.6 926.2,305.9 928.3,303.8 930.4,313.3 933.5,316.4 935.6,315.4 937.7,321.7 940.9,319.6 944.1,316.4 947.2,317.5 949.3,334.3 951.5,342.8 953.6,349.1 955.7,355.4 958.8,353.3 960.9,359.7 964.1,364.9 967.3,370.2 969.4,374.4 971.5,376.5 973.6,359.7 975.7,349.1 977.8,347.0 979.9,357.5 982.0,363.9 984.1,370.2 985.2,355.4 987.3,368.1 988.4,377.6 990.5,363.9 992.6,344.9 994.7,339.6 996.8,348.1 998.9,340.7 1001.0,330.1 1003.1,335.4 1005.2,340.7 1008.4,339.6 1010.5,342.8 1012.6,345.9 1014.7,332.2 1016.8,328.0 1020.0,324.9 1023.2,330.1 1026.3,336.5 1029.5,340.7 1031.6,352.3 1033.7,353.3 1036.9,345.9 1039.0,342.8 1042.1,341.7 1045.3,338.6 1047.4,325.9 1050.6,315.4 1053.7,309.0 1056.9,300.6 1060.1,298.5 1063.2,297.4 1066.4,295.3 1068.5,293.2 1070.6,299.6 1073.8,294.3 1076.9,291.1 1080.1,288.0 1083.2,303.8 1085.4,292.2 1087.5,290.1 1089.6,299.6 1092.7,290.1 1095.9,288.0 1098.0,289.0 1100.1,303.8 1103.3,305.9 1106.4,303.8 1109.6,312.2 1111.7,298.5 1114.9,305.9 1118.0,309.0 1120.2,312.2"/>
<polyline fill="none" stroke="#8064A2" stroke-width="5" stroke-linejoin="round" stroke-linecap="round" points="122.1,443.7 125.1,444.7 128.2,439.7 131.2,433.6 135.3,431.6 139.3,433.6 143.4,436.6 147.4,437.6 151.5,438.3 155.6,438.7 160.6,438.7 164.7,433.6 168.7,436.6 173.8,440.7 177.9,436.6 180.9,430.6 183.9,433.6 190.0,432.6 196.1,436.6 202.2,431.6 208.3,429.1 214.4,428.1 220.4,433.6 225.5,429.5 230.6,427.5 236.7,422.4 240.7,415.3 244.8,414.3 250.8,415.3 256.9,414.3 263.0,404.2 267.1,407.2 272.1,399.1 277.2,392.0 280.5,384.1 283.8,380.0 287.3,384.1 291.5,386.9 295.6,389.6 299.8,388.3 303.9,393.8 308.0,396.5 312.2,395.2 316.3,399.3 320.4,400.7 323.2,397.9 327.3,400.7 331.5,404.8 335.6,406.2 341.1,406.2 346.6,404.8 350.8,410.3 353.5,413.1 357.7,410.3 361.8,406.2 365.0,401.5 368.0,400.5 371.1,396.4 374.1,401.5 377.2,398.5 380.2,400.5 382.2,403.5 385.3,400.5 388.3,397.5 391.4,397.5 394.4,399.5 397.4,397.5 400.5,398.5 403.5,397.5 406.6,399.5 409.6,398.5 412.6,395.4 414.7,390.4 417.3,388.3 419.7,392.4 422.8,396.4 425.8,399.5 427.9,393.4 429.9,383.3 432.9,387.3 435.0,387.3 437.0,395.4 440.0,399.5 443.1,407.6 446.1,410.6 449.1,411.7 452.2,411.7 455.2,407.6 457.3,404.6 459.3,409.6 462.3,411.7 465.4,410.6 468.4,407.6 471.4,406.6 474.5,405.6 477.5,405.6 480.6,402.5 483.6,401.5 486.7,403.5 489.7,406.6 492.7,405.6 495.8,402.5 498.8,402.5 501.9,403.5 504.9,400.5 507.9,399.5 511.0,400.5 514.0,396.4 517.1,400.5 520.1,401.5 523.2,402.5 526.2,401.5 529.2,398.5 532.3,397.5 535.3,402.5 537.3,407.6 540.4,404.6 543.4,407.6 545.5,410.6 548.5,409.6 551.5,409.6 554.6,408.6 557.6,404.6 560.7,398.5 562.7,395.4 564.7,399.5 567.8,402.5 570.8,397.5 573.8,389.4 576.9,383.3 579.9,381.2 583.0,382.3 586.0,375.2 588.0,368.1 591.1,363.0 593.1,355.9 596.1,353.9 599.2,354.9 602.2,357.9 605.3,360.0 608.3,360.0 611.4,354.9 613.4,348.8 615.0,349.8 618.0,344.7 620.1,340.7 623.1,347.8 626.2,345.8 629.2,346.8 631.2,348.8 634.3,343.7 637.3,340.7 640.3,335.6 642.4,333.6 645.4,338.7 648.5,342.7 651.5,344.7 654.5,346.8 656.6,352.9 658.6,355.9 661.6,349.8 663.7,356.9 665.7,361.0 668.7,358.9 671.8,356.9 674.8,355.9 677.9,355.9 680.9,353.9 683.9,351.8 687.0,352.9 690.0,350.8 693.1,350.8 696.1,349.8 699.1,350.8 702.2,349.8 705.2,350.8 708.3,351.8 711.3,350.8 714.4,348.8 717.4,345.8 720.4,346.8 723.5,345.8 725.5,341.7 728.5,339.7 731.6,338.7 734.6,338.7 737.7,339.7 740.7,337.6 742.7,336.6 745.8,341.7 748.8,340.7 751.9,343.7 754.9,342.7 757.9,340.7 761.0,335.6 763.0,333.6 766.1,338.7 769.1,335.6 771.1,331.6 773.2,327.5 776.2,331.6 779.2,333.6 782.3,335.6 785.3,338.7 788.4,334.6 791.4,332.6 794.4,333.6 797.5,336.6 800.5,336.6 803.6,339.7 806.6,343.7 809.6,344.7 812.7,345.8 815.7,348.8 818.8,346.8 820.8,344.7 823.8,348.8 825.9,351.8 828.9,347.8 832.0,343.7 835.0,341.7 838.0,337.6 840.1,333.6 843.1,335.6 846.1,331.6 849.2,329.5 852.2,333.6 855.3,333.6 858.3,330.6 861.4,326.5 863.4,331.6 865.0,332.2 868.2,334.3 871.3,333.3 874.5,333.3 877.7,333.3 880.8,334.3 884.0,338.6 887.1,335.4 890.3,337.5 893.5,336.5 895.6,332.2 898.7,331.2 901.9,333.3 905.1,333.3 908.2,327.0 911.4,325.9 914.6,323.8 917.7,323.8 920.9,324.9 924.0,327.0 927.2,325.9 930.4,325.9 933.5,328.0 936.7,325.9 939.9,324.9 943.0,325.9 946.2,329.1 949.3,332.2 952.5,335.4 955.7,335.4 958.8,333.3 960.9,331.2 964.1,333.3 967.3,335.4 970.4,336.5 972.5,337.5 974.7,325.9 977.8,321.7 981.0,318.5 983.1,309.0 985.2,301.7 987.3,305.9 989.4,308.0 992.6,304.8 995.7,302.7 998.9,304.8 1002.1,308.0 1005.2,309.0 1008.4,306.9 1011.6,306.9 1014.7,310.1 1017.9,315.4 1021.0,319.6 1024.2,322.7 1027.4,327.0 1030.5,329.1 1033.7,330.1 1036.9,327.0 1040.0,323.8 1043.2,324.9 1045.3,323.8 1048.5,324.9 1051.6,323.8 1054.8,327.0 1057.9,323.8 1061.1,322.7 1064.3,321.7 1067.4,319.6 1070.6,315.4 1073.8,312.2 1076.9,311.2 1080.1,306.9 1083.2,306.9 1086.4,305.9 1089.6,303.8 1092.7,304.8 1095.9,302.7 1099.1,300.6 1102.2,300.6 1105.4,301.7 1108.6,301.7 1111.7,302.7 1114.9,304.8 1118.0,308.0 1120.2,313.3"/>
<g  font-family="'Liberation Sans', sans-serif" font-size="28.4" fill="#52566A">
<text x="98.4" y="106.3" text-anchor="end">1.8</text>
<text x="98.4" y="192.3" text-anchor="end">1.6</text>
<text x="98.4" y="278.3" text-anchor="end">1.4</text>
<text x="98.4" y="364.3" text-anchor="end">1.2</text>
<text x="100.2" y="450.3" text-anchor="end">1</text>
<text x="98.4" y="536.3" text-anchor="end">0.8</text>
<text x="1143.2" y="106.2">2.0%</text>
<text x="1143.2" y="167.6">1.5%</text>
<text x="1143.2" y="229.1">1.0%</text>
<text x="1143.2" y="290.5">0.5%</text>
<text x="1143.2" y="351.9">0.0%</text>
<text x="1143.2" y="413.3">-0.5%</text>
<text x="1143.2" y="474.8">-1.0%</text>
<text x="1143.2" y="536.2">-1.5%</text>
</g>
<g font-family="'Liberation Sans', sans-serif" font-size="27.7" fill="#595959" stroke="#595959" stroke-width="0.15" text-anchor="end">
<text transform="translate(126.2 560.8) rotate(-46.5)">2020-01-31</text>
<text transform="translate(178.7 560.8) rotate(-46.5)">2020-03-31</text>
<text transform="translate(231.1 560.8) rotate(-46.5)">2020-05-31</text>
<text transform="translate(283.6 560.8) rotate(-46.5)">2020-07-31</text>
<text transform="translate(336.1 560.8) rotate(-46.5)">2020-09-30</text>
<text transform="translate(388.6 560.8) rotate(-46.5)">2020-11-30</text>
<text transform="translate(441.0 560.8) rotate(-46.5)">2021-01-31</text>
<text transform="translate(493.5 560.8) rotate(-46.5)">2021-03-31</text>
<text transform="translate(546.0 560.8) rotate(-46.5)">2021-05-31</text>
<text transform="translate(598.4 560.8) rotate(-46.5)">2021-07-31</text>
<text transform="translate(650.9 560.8) rotate(-46.5)">2021-09-30</text>
<text transform="translate(703.4 560.8) rotate(-46.5)">2021-11-30</text>
<text transform="translate(755.8 560.8) rotate(-46.5)">2022-01-31</text>
<text transform="translate(808.3 560.8) rotate(-46.5)">2022-03-31</text>
<text transform="translate(860.8 560.8) rotate(-46.5)">2022-05-31</text>
<text transform="translate(913.2 560.8) rotate(-46.5)">2022-07-31</text>
<text transform="translate(965.7 560.8) rotate(-46.5)">2022-09-30</text>
<text transform="translate(1018.2 560.8) rotate(-46.5)">2022-11-30</text>
<text transform="translate(1070.7 560.8) rotate(-46.5)">2023-01-31</text>
<text transform="translate(1123.1 560.8) rotate(-46.5)">2023-03-31</text>
</g>
<rect x="66" y="25.5" width="67.6" height="14.7" fill="#B5554E"/>
<rect x="317.8" y="26" width="68.4" height="13.8" fill="#9BBB59"/>
<path d="M720 32.9H786.4" stroke="#4F81BD" stroke-width="5.4" stroke-linecap="round"/>
<path d="M926.4 32.9H992.6" stroke="#8064A2" stroke-width="5.4" stroke-linecap="round"/>
<g font-family="'Liberation Sans', 'Noto Serif CJK SC', serif" font-size="27.8" fill="#404040">
<text x="142.5" y="43">沪深<tspan dy="-1.3">300</tspan><tspan dy="1.3">净值</tspan></text>
<text x="393.5" y="43">指数对冲收益率<tspan dx="-6.5">（</tspan><tspan dx="5.5">右</tspan><tspan dx="2.5">轴</tspan><tspan dx="5">）</tspan></text>
<text x="795.5" y="43">多头净值</text>
<text x="1001.5" y="43">指数对冲净值</text>
</g>
</svg>
</body></html>
